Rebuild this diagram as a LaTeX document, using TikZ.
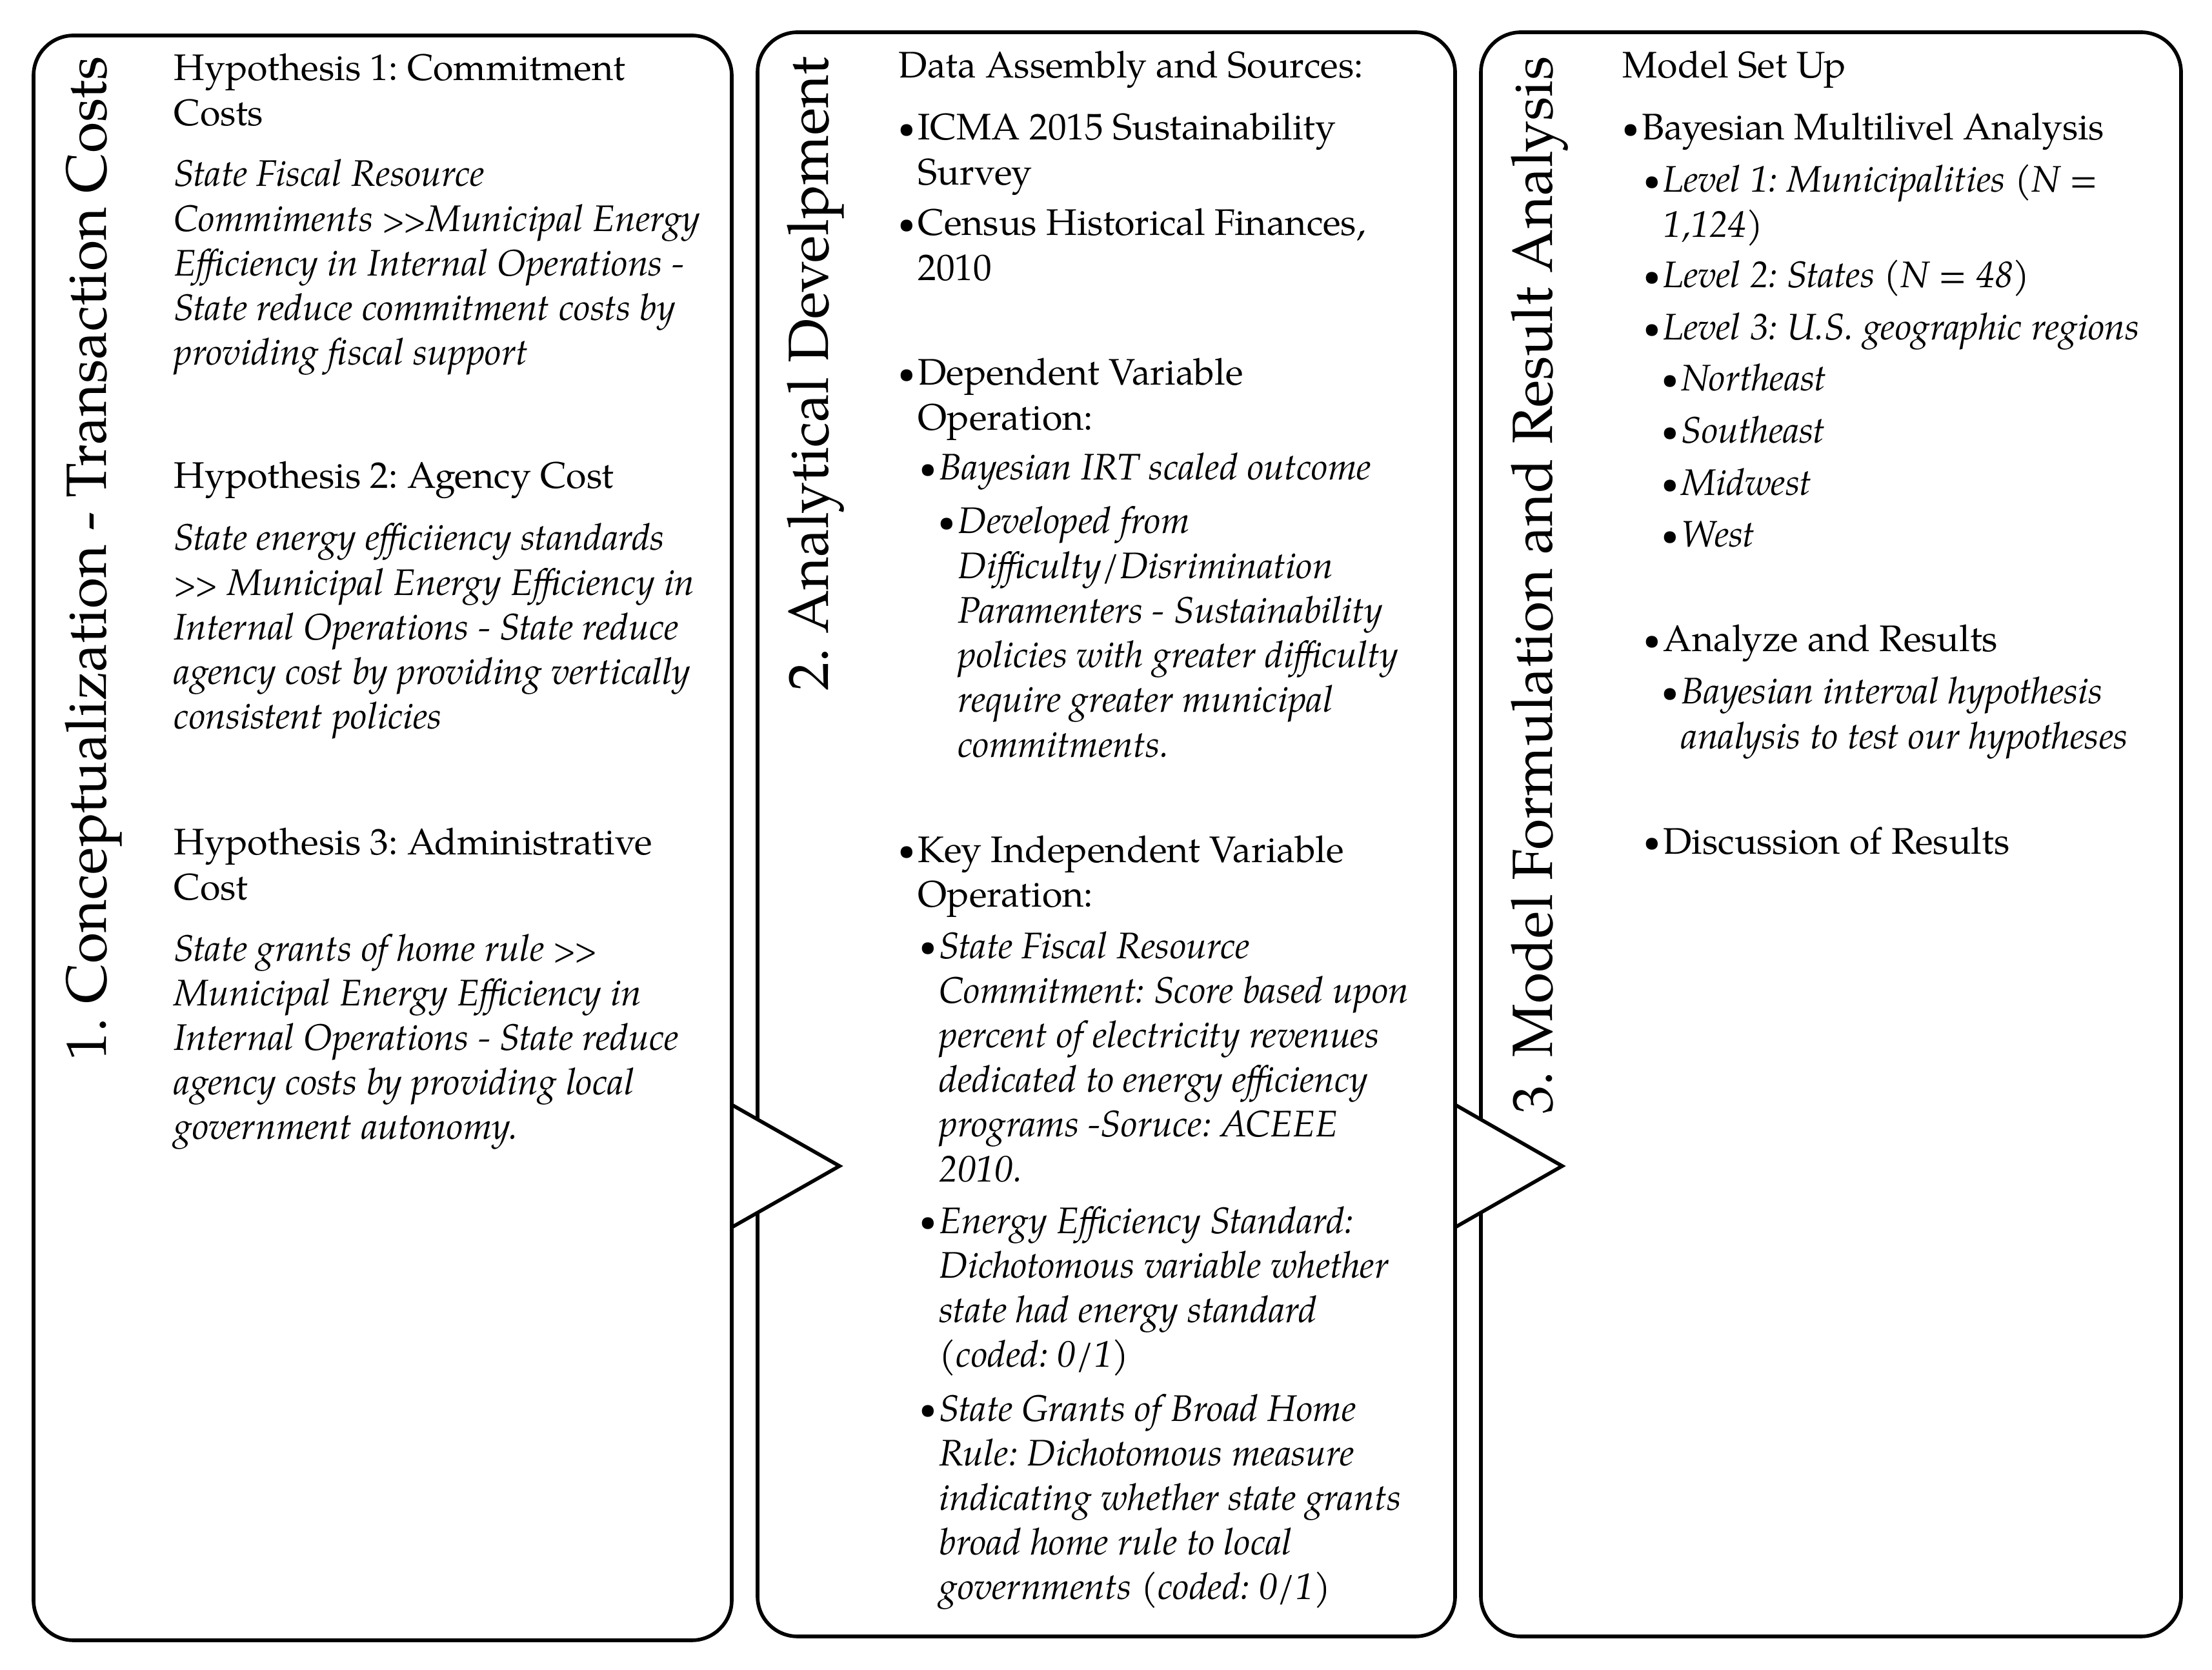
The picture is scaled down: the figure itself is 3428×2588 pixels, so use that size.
\documentclass[tikz,border=0pt]{standalone}
\usepackage{fontspec}
\usepackage{graphicx}
\setmainfont{TeX Gyre Pagella}
\frenchspacing
\newcommand{\bodyfont}{\fontsize{16.3}{19.7}\selectfont}
\newcommand{\titlefont}{\fontsize{25}{30}\selectfont}
\newcommand{\mylines}[1]{\begin{tabular}[t]{@{}l@{}}#1\end{tabular}}
\newcommand{\mydot}{\raisebox{0.9pt}{\scalebox{0.8}{\textbullet}}}
\newcommand{\mybul}[1]{\makebox[8.5pt][l]{\mydot}\mylines{#1}}
\newcommand{\mygt}{\scalebox{0.8}[0.85]{>}\kern-0.6pt\scalebox{0.8}[0.85]{>}}
\begin{document}
\begin{tikzpicture}[x=0.1mm,y=-0.1mm,
  panel/.style={draw=black, line width=1.6pt, rounded corners=6.2mm, anchor=north west, inner sep=0, outer sep=0},
  tri/.style={draw=black, fill=white, line width=1.6pt, line join=miter},
  ttl/.style={rotate=90, anchor=base east, inner sep=0, font=\titlefont},
  hd/.style={anchor=base west, inner sep=0, font=\bodyfont},
  it/.style={anchor=base west, inner sep=0, font=\bodyfont\itshape}]
\useasboundingbox (0,0) rectangle (3428,2588);
% panels
\node[panel, minimum width=108.2mm, minimum height=248.7mm] (p1) at (52,55) {};
\node[panel, minimum width=108.1mm, minimum height=248.6mm] (p2) at (1174,50) {};
\node[panel, minimum width=108.5mm, minimum height=248.6mm] (p3) at (2295,50) {};
% flow triangles
\draw[tri] (p1.east |- 0,1712) -- (1301,1807) -- (p1.east |- 0,1902) -- cycle;
\draw[tri] (p2.east |- 0,1712) -- (2421,1807) -- (p2.east |- 0,1902) -- cycle;
% titles
\node[ttl] (t1) at (164,87) {1. Conceptualization - Transaction Costs};
\node[ttl] (t2) at (1283,87) {2. Analytical Develpment};
\node[ttl] (t3) at (2405,87) {3. Model Formulation and Result Analysis};
% panel 1
\node[hd] (h1) at (269,125) {\mylines{Hypothesis 1: Commitment\\Costs}};
\node[it] (d1) at (269,289) {\mylines{State Fiscal Resource\\Commiments \mygt Municipal Energy\\Efficiency in Internal Operations -\\State reduce commitment costs by\\providing fiscal support}};
\node[hd] (h2) at (269,757) {Hypothesis 2: Agency Cost};
\node[it] (d2) at (269,853) {\mylines{State energy efficiiency standards\\\mygt{} Municipal Energy Efficiency in\\Internal Operations - State reduce\\agency cost by providing vertically\\consistent policies}};
\node[hd] (h3) at (269,1325) {\mylines{Hypothesis 3: Administrative\\Cost}};
\node[it] (d3) at (269,1489) {\mylines{State grants of home rule \mygt\\Municipal Energy Efficiency in\\Internal Operations - State reduce\\agency costs by providing local\\government autonomy.}};
% panel 2
\node[hd] (s1) at (1392,121) {Data Assembly and Sources:};
\node[hd] (s2) at (1392,217) {\mybul{ICMA 2015 Sustainability\\Survey}};
\node[hd] (s3) at (1392,365) {\mybul{Census Historical Finances,\\2010}};
\node[hd] (s4) at (1392,597) {\mybul{Dependent Variable\\Operation:}};
\node[it] (s5) at (1425,744) {\mybul{Bayesian IRT scaled outcome}};
\node[it] (s6) at (1454,827) {\mybul{Developed from\\Difficulty/Disrimination\\Paramenters - Sustainability\\policies with greater difficulty\\require greater municipal\\commitments.}};
\node[hd] (s7) at (1392,1336) {\mybul{Key Independent Variable\\Operation:}};
\node[it] (s8) at (1425,1485) {\mybul{State Fiscal Resource\\Commitment: Score based upon\\percent of electricity revenues\\dedicated to energy efficiency\\programs -Soruce: ACEEE\\2010.}};
\node[it] (s9) at (1425,1911) {\mybul{Energy Efficiency Standard:\\Dichotomous variable whether\\state had energy standard\\(coded: 0/1)}};
\node[it] (s10) at (1425,2202) {\mybul{State Grants of Broad Home\\Rule: Dichotomous measure\\indicating whether state grants\\broad home rule to local\\governments (coded: 0/1)}};
% panel 3
\node[hd] (m1) at (2514,121) {Model Set Up};
\node[hd] (m2) at (2514,217) {\mybul{Bayesian Multilivel Analysis}};
\node[it] (m3) at (2547,298) {\mybul{Level 1: Municipalities (N =\\1,124)}};
\node[it] (m4) at (2547,446) {\mybul{Level 2: States (N = 48)}};
\node[it] (m5) at (2547,527) {\mybul{Level 3: U.S. geographic regions}};
\node[it] (m6) at (2575,606) {\mybul{Northeast}};
\node[it] (m7) at (2575,687) {\mybul{Southeast}};
\node[it] (m8) at (2575,768) {\mybul{Midwest}};
\node[it] (m9) at (2575,848) {\mybul{West}};
\node[hd] (m10) at (2547,1010) {\mybul{Analyze and Results}};
\node[it] (m11) at (2575,1091) {\mybul{Bayesian interval hypothesis\\analysis to test our hypotheses}};
\node[hd] (m12) at (2547,1323) {\mybul{Discussion of Results}};
\end{tikzpicture}
\end{document}
